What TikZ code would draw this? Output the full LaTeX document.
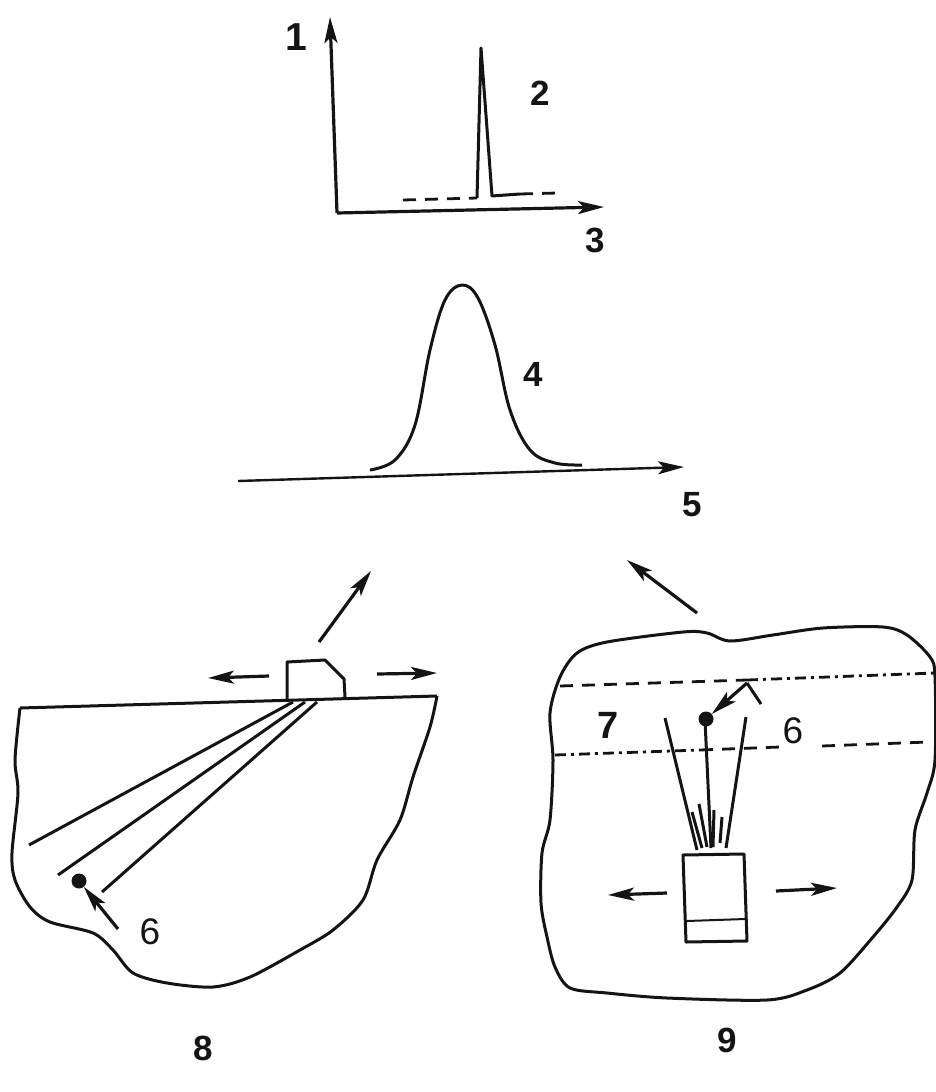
\documentclass[tikz,border=0pt]{standalone}
\usepackage{fontspec}
\setmainfont{Liberation Sans}
\usepackage{tikz}
\usetikzlibrary{arrows.meta,positioning,calc}
\definecolor{cink}{HTML}{141414}
\begin{document}
\begin{tikzpicture}[x=1pt,y=-1pt,line join=round,
  every node/.style={font=\fontsize{37}{37}\selectfont,text=cink},
  ink/.style={draw=cink,line width=3pt},
  thinink/.style={draw=cink,line width=2pt},
  arrowline/.style={draw=cink,line width=3.2pt,-{Stealth[length=26pt,width=13pt,inset=6pt]}},
  brokenline/.style={draw=cink,line width=2.8pt,dash pattern=on 13pt off 9pt},
  chainline/.style={draw=cink,line width=2.8pt,dash pattern=on 11pt off 5pt on 3pt off 5pt},
  digit/.style={font=\fontsize{35}{35}\selectfont\bfseries}]
  \useasboundingbox (0,0) rectangle (935,1092);
  % spectrum at the top
  \coordinate (origin) at (337,213);
  \coordinate (ytip) at (330,17);
  \coordinate (xtip) at (604,207);
  \draw[arrowline] (origin) -- (ytip);
  \draw[arrowline] (origin) -- (xtip);
  \draw[ink] (477,198) -- (481,48) -- (492,196) -- (520,194);
  \draw[brokenline] (403,200) -- (477,198);
  \draw[brokenline] (520,194) -- (557,193);
  \node[digit,font=\fontsize{39}{39}\selectfont\bfseries] (lblone) at (296,37) {1};
  \node[digit] (lbltwo) at (540,93) {2};
  \node[digit] (lblthree) at (595,240) {3};
  % gaussian
  \draw[ink] plot[smooth,tension=0.6] coordinates {(370,470) (395,460) (415,425) (430,350) (445,300) (462,285) (478,298) (495,345) (510,410) (530,450) (555,463) (582,465)};
  \coordinate (gaussfrom) at (238,481);
  \coordinate (gausstip) at (684,467);
  \draw[arrowline,line width=2.4pt] (gaussfrom) -- (gausstip);
  \node[digit] (lblfour) at (533,374) {4};
  \node[digit] (lblfive) at (692,505) {5};
  % left sample
  \draw[ink] plot[smooth,tension=0.5] coordinates {(20,708) (15,760) (18,793) (12,853) (15,880) (30,907) (50,922) (93,933) (113,950) (133,973) (167,983) (213,987) (250,977) (300,950) (333,930) (363,900) (377,860) (400,820) (413,777) (430,727) (437,696)};
  \draw[ink] (20,708) -- (437,696);
  \draw[ink] (287,701) -- (287,662) -- (325,660) -- (344,679) -- (345,697);
  \foreach \a/\b/\c/\d in {293/702/29/845,305/702/58/875,317/702/102/892}{\draw[ink] (\a,\b) -- (\c,\d);}
  \node[circle,fill=cink,inner sep=0pt,minimum size=15pt] (leftdot) at (79,881) {};
  \coordinate (leftfrom) at (118,929);
  \draw[arrowline] (leftfrom) -- (leftdot);
  \node (lblsixa) at (150,932) {6};
  \foreach \a/\b/\c/\d in {269/676/208/678,377/674/437/673,319/642/371/571,697/613/627/560}{\draw[arrowline] (\a,\b) -- (\c,\d);}
  \node[digit] (lbleight) at (203,1048) {8};
  % right sample
  \draw[ink] plot[smooth cycle,tension=0.5] coordinates {(577,653) (607,642) (683,632) (707,633) (730,641) (773,635) (823,628) (883,627) (907,635) (930,657) (935,677) (935,760) (927,793) (915,830) (912,880) (897,907) (873,937) (840,973) (807,990) (767,1000) (667,998) (607,993) (570,988) (555,967) (547,937) (541,903) (542,853) (550,820) (553,760) (550,713) (560,677)};
  \draw[brokenline] (560,686) -- (747,680);
  \draw[chainline] (747,680) -- (935,673);
  \draw[chainline] (555,755) -- (700,750);
  \draw[brokenline] (700,750) -- (780,747);
  \draw[brokenline] (822,746) -- (928,742);
  \draw[ink] (683,855) -- (744,854) -- (747,941) -- (686,942) -- cycle;
  \draw[thinink] (687,921) -- (745,919);
  \foreach \a/\b/\c/\d in {665/718/697/850,705/720/711/848,746/717/726/848,692/812/702/848,699/804/707/847,714/810/713/847,722/817/720/843}{\draw[ink] (\a,\b) -- (\c,\d);}
  \node[circle,fill=cink,inner sep=0pt,minimum size=15pt] (rightdot) at (706,719) {};
  \coordinate (rightfrom) at (761,704);
  \coordinate (rightbend) at (747,683);
  \draw[ink] (rightfrom) -- (rightbend);
  \draw[arrowline] (rightbend) -- (rightdot);
  \foreach \a/\b/\c/\d in {667/893/608/895,776/891/837/888}{\draw[arrowline] (\a,\b) -- (\c,\d);}
  \node[digit,font=\fontsize{38}{38}\selectfont\bfseries] (lblseven) at (608,725) {7};
  \node (lblsixb) at (793,731) {6};
  \node[digit] (lblnine) at (727,1040) {9};
\end{tikzpicture}
\end{document}
